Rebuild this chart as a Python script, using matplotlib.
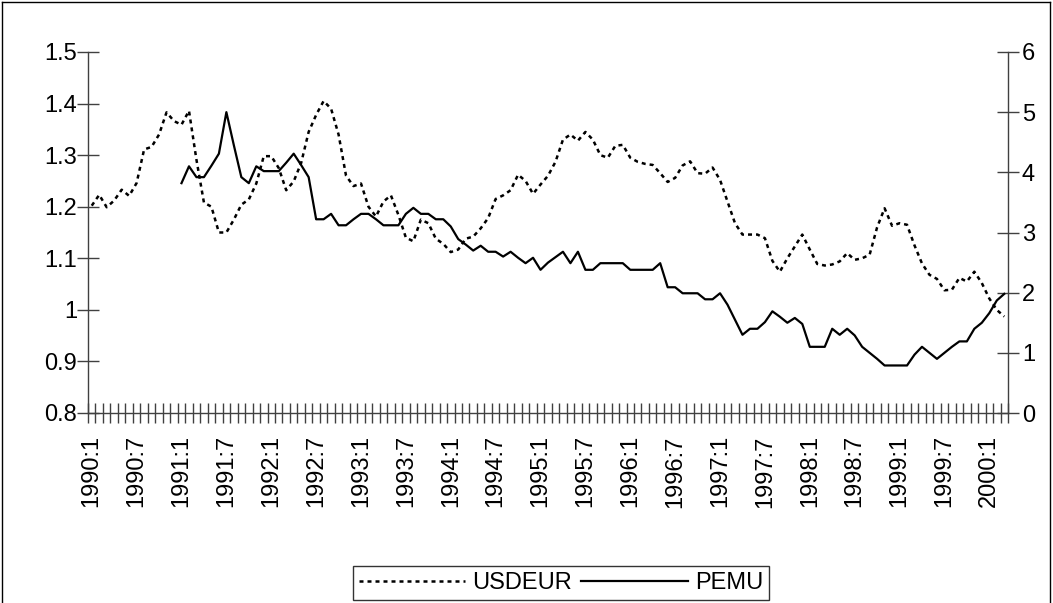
import matplotlib
matplotlib.use('Agg')
import matplotlib.pyplot as plt
from matplotlib.lines import Line2D
from matplotlib.ticker import FixedLocator, FuncFormatter

plt.rcParams['font.family'] = ['Liberation Sans', 'DejaVu Sans']

# monthly observations, 1990:1 .. 2000:3
months = [f"{1990 + k // 12}:{k % 12 + 1}" for k in range(123)]

usdeur = [
    1.202, 1.223, 1.199, 1.212, 1.233, 1.221, 1.246, 1.311, 1.316, 1.340,
    1.383, 1.366, 1.359, 1.386, 1.291, 1.208, 1.200, 1.150, 1.150, 1.175,
    1.204, 1.214, 1.245, 1.298, 1.298, 1.275, 1.232, 1.249, 1.285, 1.345,
    1.378, 1.405, 1.390, 1.340, 1.260, 1.240, 1.245, 1.200, 1.181, 1.210,
    1.222, 1.184, 1.140, 1.133, 1.175, 1.168, 1.138, 1.128, 1.112, 1.117,
    1.138, 1.142, 1.158, 1.178, 1.215, 1.222, 1.232, 1.262, 1.250, 1.225,
    1.243, 1.260, 1.287, 1.330, 1.340, 1.328, 1.345, 1.330, 1.300, 1.295,
    1.318, 1.320, 1.295, 1.287, 1.283, 1.281, 1.265, 1.248, 1.256, 1.280,
    1.288, 1.265, 1.264, 1.276, 1.252, 1.210, 1.168, 1.146, 1.146, 1.146,
    1.139, 1.095, 1.074, 1.100, 1.123, 1.146, 1.117, 1.089, 1.086, 1.088,
    1.094, 1.110, 1.097, 1.100, 1.107, 1.160, 1.197, 1.163, 1.168, 1.165,
    1.125, 1.090, 1.068, 1.060, 1.038, 1.039, 1.062, 1.055, 1.074, 1.052,
    1.022, 1.000, 0.987,
]

# PEMU starts in 1991:1
pemu_start = 12
pemu = [
    3.82, 4.10, 3.92, 3.92, 4.11, 4.31, 5.00, 4.45, 3.92, 3.82,
    4.10, 4.02, 4.02, 4.02, 4.16, 4.31, 4.12, 3.92, 3.22, 3.22,
    3.31, 3.12, 3.12, 3.22, 3.31, 3.31, 3.22, 3.12, 3.12, 3.12,
    3.31, 3.41, 3.31, 3.31, 3.22, 3.22, 3.10, 2.89, 2.80, 2.70,
    2.78, 2.68, 2.68, 2.60, 2.68, 2.58, 2.49, 2.58, 2.38, 2.50,
    2.59, 2.68, 2.49, 2.68, 2.38, 2.38, 2.49, 2.49, 2.49, 2.49,
    2.38, 2.38, 2.38, 2.38, 2.49, 2.09, 2.09, 1.99, 1.99, 1.99,
    1.89, 1.89, 1.99, 1.80, 1.55, 1.30, 1.40, 1.40, 1.51, 1.69,
    1.60, 1.50, 1.58, 1.48, 1.10, 1.10, 1.10, 1.40, 1.30, 1.40,
    1.29, 1.10, 1.00, 0.90, 0.79, 0.79, 0.79, 0.79, 0.97, 1.10,
    1.00, 0.90, 1.00, 1.10, 1.19, 1.19, 1.40, 1.50, 1.66, 1.87,
    1.98,
]

left_ticks = [0.8, 0.9, 1.0, 1.1, 1.2, 1.3, 1.4, 1.5]
right_ticks = [0, 1, 2, 3, 4, 5, 6]

W, H = 1053, 603
fig = plt.figure(figsize=(W / 100, H / 100), dpi=100)
fig.patch.set_facecolor('white')

# plot area in pixels: left 88, right 1008, top 52, bottom 413
ax = fig.add_axes([88 / W, 1 - 413 / H, 920 / W, 361 / H])
ax2 = ax.twinx()

x_usd = list(range(len(usdeur)))
x_pemu = list(range(pemu_start, pemu_start + len(pemu)))

l1, = ax.plot(x_usd, usdeur, color='black', lw=1.8, linestyle=(0, (1.6, 1.6)),
              solid_capstyle='butt', dash_capstyle='butt')
l2, = ax2.plot(x_pemu, pemu, color='black', lw=1.6)

n = len(months)
ax.set_xlim(-0.5, n - 0.5)
ax.set_ylim(0.8, 1.5)
ax2.set_ylim(0, 6)

fs = 17
# x axis: tick marks between categories, labels every 6 months
ax.xaxis.set_major_locator(FixedLocator(list(range(0, n, 6))[:21]))
ax.set_xticklabels([months[i] for i in range(0, n, 6)][:21], rotation=90, fontsize=fs)
ax.xaxis.set_minor_locator(FixedLocator([k - 0.5 for k in range(n + 1)]))
ax.tick_params(axis='x', which='major', length=0, pad=16)
ax.tick_params(axis='x', which='minor', direction='inout', length=14, width=1, color='#404040')

ax.yaxis.set_major_locator(FixedLocator(left_ticks))
ax.yaxis.set_major_formatter(FuncFormatter(lambda v, p: f"{v:g}"))
ax.tick_params(axis='y', direction='inout', length=16, width=1, labelsize=fs, pad=0, color='#404040')

ax2.yaxis.set_major_locator(FixedLocator(right_ticks))
ax2.tick_params(axis='y', direction='inout', length=16, width=1, labelsize=fs, pad=2, color='#404040')

for s in ['top', 'right']:
    ax.spines[s].set_visible(False)
for s in ['top', 'left', 'bottom']:
    ax2.spines[s].set_visible(False)
for sp in [ax.spines['left'], ax.spines['bottom'], ax2.spines['right']]:
    sp.set_color('#404040')
    sp.set_linewidth(1)

# legend at the bottom
leg = fig.legend([l1, l2], ['USDEUR', 'PEMU'], loc='center', ncol=2,
                 bbox_to_anchor=(561 / W, 1 - 583 / H), fontsize=fs,
                 frameon=True, fancybox=False, handlelength=4.5,
                 handletextpad=0.3, columnspacing=0.4, borderpad=0.25)
leg.get_frame().set_edgecolor('black')
leg.get_frame().set_linewidth(1)

# outer chart border
border = [Line2D([2 / W, 2 / W], [0, 1 - 2 / H]),
          Line2D([2 / W, 1 - 3 / W], [1 - 2 / H, 1 - 2 / H]),
          Line2D([1 - 3 / W, 1 - 3 / W], [0, 1 - 2 / H])]
for ln in border:
    ln.set_color('black')
    ln.set_linewidth(1)
    ln.set_transform(fig.transFigure)
    fig.lines.append(ln)

fig.savefig('out.png', dpi=100)
